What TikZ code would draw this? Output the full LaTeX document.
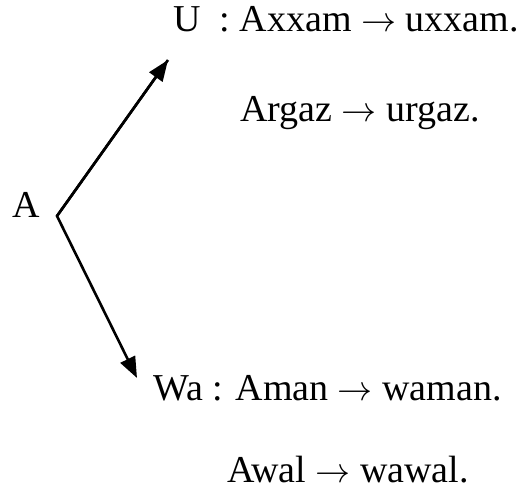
\documentclass[tikz,border=0pt]{standalone}
\usepackage{graphicx}
\usepackage{fontspec}
\setmainfont{Liberation Serif}
\usetikzlibrary{arrows.meta, positioning}
\newcommand{\goesto}{\resizebox{35pt}{!}{$\rightarrow$}}

\begin{document}
\begin{tikzpicture}[
    x=1pt, y=-1pt,
    entry/.style={anchor=base west, inner sep=0pt, font=\fontsize{38}{42}\selectfont},
    arrow/.style={-{Triangle[length=21pt, width=16pt]}, line width=2.6pt}
]
\useasboundingbox (0,0) rectangle (520,500);
\node[entry] (a) at (12, 218) {A};
\node[entry] (u) at (173, 32) {U\ \ : Axxam \goesto{} uxxam.};
\node[entry] (argaz) at (240, 122) {Argaz \goesto{} urgaz.};
\node[entry] (wa) at (153, 400) {Wa : Aman \goesto{} waman.};
\node[entry] (awal) at (227, 482) {Awal \goesto{} wawal.};
\coordinate (fork) at (57, 216);
\coordinate (tipu) at (168, 60);
\coordinate (tipwa) at (137, 378);
\draw[arrow, line join=miter] (tipu) -- (fork) -- (tipwa);
\draw[arrow] (fork) -- (tipu);
\end{tikzpicture}
\end{document}
